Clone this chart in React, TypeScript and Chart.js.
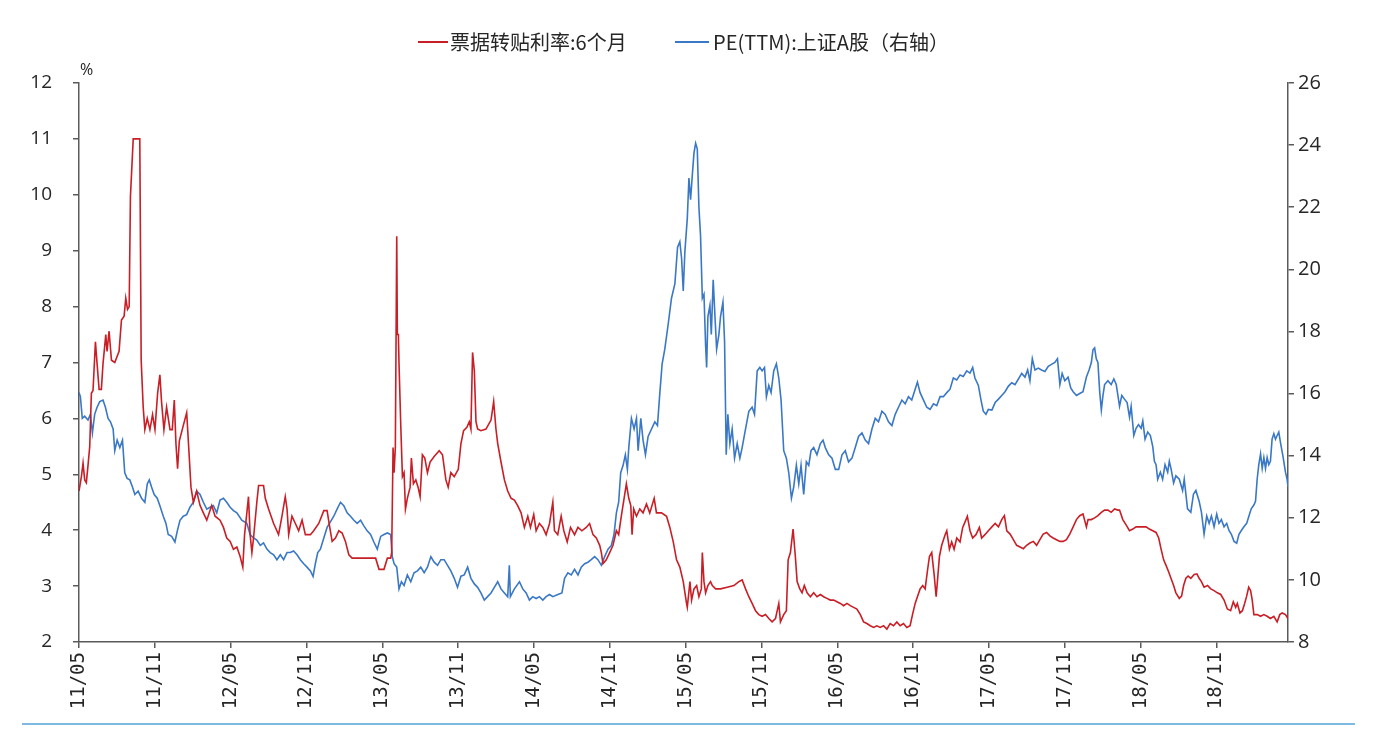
import React, { useEffect, useRef } from 'react';
import { Chart, registerables } from 'chart.js';

Chart.register(...registerables);

// x positions are months counted from 2011-05
const xTickLabels = ['11/05', '11/11', '12/05', '12/11', '13/05', '13/11', '14/05', '14/11', '15/05', '15/11', '16/05', '16/11', '17/05', '17/11', '18/05', '18/11'];

const rateMonths = [
  0, 0.19, 0.32, 0.45, 0.58, 0.71, 0.85, 0.98, 1.11, 1.3, 1.43, 1.59, 1.77, 1.9, 2.12, 2.22, 2.38, 2.57, 2.83, 3.17,
  3.36, 3.57, 3.7, 3.84, 3.97, 4.07, 4.29, 4.81, 4.92, 5.08, 5.21, 5.4, 5.61, 5.82, 6.01, 6.22, 6.4, 6.53, 6.72, 6.93,
  7.2, 7.38, 7.54, 7.67, 7.8, 7.94, 8.25, 8.52, 8.65, 8.86, 9.05, 9.31, 9.58, 9.84, 10.11, 10.5, 10.77, 11.16, 11.43, 11.69,
  11.96, 12.22, 12.49, 12.75, 12.96, 13.1, 13.28, 13.41, 13.54, 13.68, 13.81, 14.07, 14.21, 14.34, 14.6, 14.74, 15.0, 15.4, 15.79, 16.06,
  16.32, 16.46, 16.59, 16.85, 17.12, 17.38, 17.65, 17.91, 18.31, 18.57, 18.97, 19.37, 19.63, 19.84, 20.03, 20.29, 20.56, 20.82, 21.08, 21.35,
  21.61, 22.28, 23.47, 23.74, 24.13, 24.4, 24.66, 24.74, 24.85, 24.93, 25.03, 25.14, 25.19, 25.27, 25.32, 25.46, 25.59, 25.72, 25.83, 25.98,
  26.2, 26.3, 26.46, 26.65, 26.83, 26.99, 27.17, 27.36, 27.57, 27.78, 28.1, 28.5, 28.76, 29.03, 29.21, 29.42, 29.69, 30.01, 30.22, 30.43,
  30.69, 30.88, 31.01, 31.14, 31.28, 31.41, 31.54, 31.8, 32.2, 32.6, 32.81, 32.99, 33.13, 33.39, 33.66, 33.92, 34.19, 34.45, 34.71, 34.98,
  35.24, 35.51, 35.72, 35.98, 36.17, 36.43, 36.7, 36.96, 37.23, 37.49, 37.62, 37.88, 38.15, 38.36, 38.63, 38.89, 39.21, 39.48, 39.79, 40.13,
  40.4, 40.67, 40.93, 41.2, 41.33, 41.46, 41.72, 41.99, 42.25, 42.52, 42.7, 42.91, 43.13, 43.31, 43.5, 43.66, 43.76, 43.89, 44.11, 44.37,
  44.63, 44.9, 45.16, 45.51, 45.69, 46.09, 46.49, 46.75, 47.02, 47.28, 47.54, 47.81, 48.07, 48.13, 48.34, 48.47, 48.66, 48.87, 49.05, 49.24,
  49.32, 49.45, 49.58, 49.76, 49.97, 50.11, 50.37, 50.76, 51.29, 51.82, 52.21, 52.47, 52.74, 53.0, 53.26, 53.53, 53.79, 54.05, 54.32, 54.58,
  54.84, 55.11, 55.37, 55.5, 55.76, 55.97, 56.11, 56.29, 56.5, 56.68, 56.82, 57.03, 57.21, 57.39, 57.61, 57.87, 58.13, 58.39, 58.66, 58.92,
  59.18, 59.45, 59.71, 59.97, 60.24, 60.5, 60.76, 61.03, 61.29, 61.55, 61.82, 62.08, 62.34, 62.61, 62.87, 63.13, 63.39, 63.66, 63.92, 64.18,
  64.45, 64.71, 64.97, 65.24, 65.5, 65.76, 65.95, 66.16, 66.34, 66.55, 66.76, 66.95, 67.13, 67.29, 67.47, 67.66, 67.82, 67.92, 68.08, 68.26,
  68.53, 68.66, 68.87, 69.05, 69.24, 69.45, 69.71, 69.92, 70.11, 70.29, 70.5, 70.71, 70.97, 71.24, 71.42, 71.68, 71.95, 72.23, 72.49, 72.75,
  73.01, 73.22, 73.41, 73.67, 73.93, 74.19, 74.46, 74.72, 74.98, 75.24, 75.51, 75.77, 76.03, 76.29, 76.56, 76.82, 77.08, 77.34, 77.61, 77.87,
  78.13, 78.39, 78.66, 78.92, 79.18, 79.44, 79.71, 79.84, 80.1, 80.36, 80.62, 80.89, 81.15, 81.41, 81.67, 81.94, 82.2, 82.33, 82.59, 82.86,
  83.12, 83.38, 83.64, 83.91, 84.17, 84.43, 84.69, 84.96, 85.22, 85.43, 85.61, 85.82, 86.01, 86.19, 86.4, 86.61, 86.79, 87.06, 87.24, 87.4,
  87.58, 87.76, 87.97, 88.24, 88.45, 88.63, 88.81, 89.02, 89.29, 89.55, 89.81, 90.07, 90.34, 90.6, 90.86, 91.12, 91.33, 91.52, 91.65, 91.86,
  92.05, 92.23, 92.39, 92.55, 92.7, 92.83, 92.96, 93.23, 93.49, 93.75, 94.01, 94.27, 94.54, 94.8, 95.01, 95.2, 95.46, 95.66,
];

const rateValues = [
  4.7, 4.96, 5.2, 4.9, 4.85, 5.15, 5.5, 6.45, 6.5, 7.37, 6.98, 6.52, 6.52, 6.98, 7.5, 7.2, 7.56, 7.04, 7.0, 7.2,
  7.76, 7.83, 8.15, 7.95, 8.0, 9.97, 11, 11, 7.04, 6.2, 5.8, 6.0, 5.8, 6.07, 5.8, 6.45, 6.78, 6.3, 5.8, 6.2,
  5.8, 5.8, 6.33, 5.55, 5.1, 5.6, 5.87, 6.1, 5.6, 4.77, 4.5, 4.7, 4.44, 4.31, 4.18, 4.44, 4.25, 4.18, 4.05, 3.86,
  3.8, 3.66, 3.7, 3.53, 3.34, 3.92, 4.31, 4.6, 3.92, 3.6, 3.86, 4.5, 4.8, 4.8, 4.8, 4.57, 4.38, 4.12, 3.92, 4.25,
  4.6, 4.38, 3.92, 4.25, 4.12, 3.99, 4.18, 3.92, 3.92, 3.99, 4.12, 4.35, 4.35, 4.05, 3.8, 3.86, 3.99, 3.95, 3.8, 3.56,
  3.5, 3.5, 3.5, 3.3, 3.3, 3.5, 3.5, 3.6, 5.48, 5.03, 5.48, 9.26, 7.5, 7.5, 6.98, 5.87, 4.96, 5.03, 4.38, 4.57,
  4.77, 5.29, 4.83, 4.9, 4.77, 4.6, 5.35, 5.29, 5.03, 5.22, 5.32, 5.42, 5.35, 4.9, 4.77, 5.03, 4.96, 5.09, 5.55, 5.78,
  5.84, 5.94, 5.81, 7.18, 6.85, 5.94, 5.81, 5.78, 5.81, 5.97, 6.3, 5.81, 5.55, 5.22, 4.9, 4.7, 4.57, 4.54, 4.44, 4.31,
  4.05, 4.25, 4.05, 4.28, 3.99, 4.12, 4.05, 3.92, 4.12, 4.5, 3.99, 3.92, 4.25, 3.99, 3.79, 4.05, 3.92, 4.05, 3.99, 4.05,
  4.12, 3.92, 3.86, 3.73, 3.6, 3.4, 3.47, 3.6, 3.73, 3.99, 3.92, 4.25, 4.57, 4.83, 4.57, 4.44, 3.92, 4.38, 4.25, 4.38,
  4.31, 4.47, 4.31, 4.57, 4.31, 4.31, 4.25, 4.05, 3.79, 3.47, 3.34, 3.08, 2.69, 2.62, 3.08, 2.75, 2.95, 3.01, 2.81, 2.95,
  3.6, 3.08, 2.88, 3.01, 3.08, 3.01, 2.95, 2.95, 2.98, 3.01, 3.08, 3.11, 2.95, 2.81, 2.69, 2.56, 2.49, 2.46, 2.49, 2.42,
  2.36, 2.42, 2.69, 2.36, 2.49, 2.56, 3.47, 3.6, 4.02, 3.53, 3.08, 2.95, 2.88, 3.01, 2.88, 2.81, 2.88, 2.81, 2.85, 2.81,
  2.78, 2.75, 2.75, 2.72, 2.69, 2.65, 2.69, 2.65, 2.62, 2.59, 2.49, 2.36, 2.33, 2.29, 2.26, 2.29, 2.26, 2.29, 2.23, 2.33,
  2.29, 2.36, 2.29, 2.33, 2.26, 2.29, 2.49, 2.69, 2.81, 2.95, 3.01, 2.95, 3.27, 3.53, 3.6, 3.21, 2.81, 3.08, 3.53, 3.73,
  3.92, 3.99, 3.66, 3.79, 3.66, 3.86, 3.79, 4.05, 4.15, 4.25, 3.99, 3.86, 3.92, 4.05, 3.86, 3.92, 3.99, 4.06, 4.12, 4.06,
  4.19, 4.26, 3.99, 3.93, 3.83, 3.73, 3.7, 3.67, 3.73, 3.77, 3.8, 3.73, 3.83, 3.93, 3.96, 3.9, 3.86, 3.83, 3.8, 3.8,
  3.83, 3.93, 4.06, 4.19, 4.26, 4.29, 4.06, 4.19, 4.19, 4.22, 4.26, 4.32, 4.36, 4.36, 4.32, 4.38, 4.36, 4.36, 4.19, 4.09,
  3.99, 4.02, 4.06, 4.06, 4.06, 4.06, 4.02, 3.99, 3.96, 3.86, 3.67, 3.47, 3.37, 3.27, 3.14, 3.01, 2.88, 2.78, 2.82, 3.01,
  3.14, 3.18, 3.14, 3.21, 3.22, 3.14, 3.08, 2.98, 3.01, 2.95, 2.92, 2.88, 2.85, 2.75, 2.59, 2.56, 2.72, 2.62, 2.69, 2.52,
  2.56, 2.69, 2.82, 2.98, 2.92, 2.75, 2.49, 2.49, 2.46, 2.49, 2.46, 2.42, 2.46, 2.36, 2.49, 2.52, 2.49, 2.42,
];

const peMonths = [
  0, 0.11, 0.26, 0.45, 0.71, 0.9, 1.06, 1.24, 1.43, 1.64, 1.9, 2.09, 2.3, 2.49, 2.7, 2.83, 3.02, 3.23, 3.44, 3.62,
  3.81, 4.02, 4.23, 4.42, 4.68, 4.95, 5.21, 5.4, 5.56, 5.74, 5.95, 6.19, 6.4, 6.67, 6.88, 7.06, 7.33, 7.59, 7.78, 7.99,
  8.25, 8.52, 8.78, 9.05, 9.31, 9.58, 9.84, 10.11, 10.37, 10.63, 10.9, 11.16, 11.43, 11.69, 11.96, 12.22, 12.49, 12.88, 13.28, 13.54,
  13.81, 14.07, 14.34, 14.6, 14.87, 15.13, 15.4, 15.66, 15.93, 16.19, 16.46, 16.72, 16.98, 17.25, 17.51, 17.78, 18.04, 18.31, 18.52, 18.7,
  18.89, 19.1, 19.37, 19.63, 19.89, 20.16, 20.42, 20.69, 20.95, 21.22, 21.48, 21.75, 22.01, 22.28, 22.54, 22.8, 23.07, 23.33, 23.6, 23.87,
  24.13, 24.4, 24.66, 24.79, 24.93, 25.14, 25.32, 25.51, 25.72, 25.98, 26.25, 26.51, 26.78, 27.04, 27.31, 27.57, 27.84, 28.1, 28.37, 28.63,
  28.89, 29.16, 29.42, 29.69, 29.95, 30.22, 30.48, 30.75, 31.01, 31.28, 31.54, 31.8, 32.07, 32.33, 32.6, 32.86, 33.13, 33.39, 33.66, 33.92,
  34.05, 34.13, 34.45, 34.85, 35.11, 35.38, 35.64, 35.9, 36.17, 36.43, 36.7, 36.96, 37.23, 37.49, 37.89, 38.21, 38.42, 38.68, 38.95, 39.21,
  39.48, 39.74, 40.01, 40.27, 40.53, 40.8, 41.06, 41.33, 41.59, 41.86, 42.12, 42.33, 42.52, 42.7, 42.86, 43.05, 43.23, 43.39, 43.5, 43.71,
  43.92, 44.11, 44.24, 44.45, 44.63, 44.82, 45.03, 45.3, 45.56, 45.77, 45.96, 46.14, 46.35, 46.62, 46.88, 47.15, 47.36, 47.54, 47.68, 47.81,
  47.94, 48.13, 48.26, 48.39, 48.53, 48.66, 48.79, 48.92, 49.05, 49.18, 49.32, 49.45, 49.58, 49.66, 49.76, 49.92, 50.03, 50.18, 50.32, 50.45,
  50.63, 50.76, 50.95, 51.08, 51.21, 51.34, 51.5, 51.68, 51.87, 52.08, 52.29, 52.47, 52.74, 53.0, 53.26, 53.45, 53.66, 53.87, 54.05, 54.24,
  54.39, 54.58, 54.76, 54.97, 55.18, 55.37, 55.55, 55.76, 55.97, 56.16, 56.37, 56.55, 56.76, 56.95, 57.13, 57.34, 57.55, 57.74, 57.92, 58.13,
  58.39, 58.66, 58.87, 59.05, 59.32, 59.58, 59.84, 60.11, 60.37, 60.63, 60.89, 61.16, 61.42, 61.68, 61.95, 62.21, 62.47, 62.74, 63.0, 63.26,
  63.53, 63.79, 64.05, 64.32, 64.58, 64.84, 65.11, 65.37, 65.63, 65.89, 66.16, 66.34, 66.55, 66.82, 67.08, 67.34, 67.61, 67.87, 68.13, 68.39,
  68.66, 68.92, 69.18, 69.45, 69.71, 69.97, 70.24, 70.5, 70.71, 70.89, 71.16, 71.37, 71.55, 71.76, 71.95, 72.23, 72.49, 72.75, 73.01, 73.27,
  73.54, 73.8, 74.06, 74.33, 74.59, 74.85, 75.06, 75.24, 75.43, 75.64, 75.9, 76.16, 76.43, 76.69, 76.95, 77.21, 77.42, 77.61, 77.79, 78.0,
  78.26, 78.47, 78.66, 78.92, 79.18, 79.44, 79.71, 79.92, 80.1, 80.23, 80.36, 80.49, 80.62, 80.76, 80.89, 81.02, 81.15, 81.41, 81.67, 81.88,
  82.07, 82.2, 82.33, 82.51, 82.72, 82.93, 83.12, 83.25, 83.46, 83.64, 83.83, 84.04, 84.17, 84.35, 84.56, 84.77, 84.96, 85.09, 85.22, 85.35,
  85.56, 85.74, 85.93, 86.14, 86.27, 86.4, 86.61, 86.79, 87.06, 87.32, 87.45, 87.71, 87.97, 88.18, 88.37, 88.63, 88.81, 89.02, 89.23, 89.42,
  89.6, 89.81, 90.02, 90.2, 90.39, 90.6, 90.81, 90.99, 91.18, 91.39, 91.6, 91.78, 91.97, 92.17, 92.39, 92.57, 92.75, 92.96, 93.09, 93.22,
  93.35, 93.49, 93.62, 93.75, 93.88, 94.01, 94.14, 94.27, 94.4, 94.54, 94.67, 94.8, 94.93, 95.07, 95.28, 95.46, 95.59, 95.66,
];

const peValues = [
  16.03, 15.9, 15.2, 15.27, 15.15, 15.33, 14.73, 15.33, 15.56, 15.74, 15.79, 15.56, 15.2, 15.09, 14.86, 14.16, 14.5, 14.26, 14.5, 13.45,
  13.27, 13.22, 12.99, 12.75, 12.86, 12.63, 12.5, 13.09, 13.22, 12.99, 12.75, 12.63, 12.39, 12.05, 11.82, 11.46, 11.4, 11.22, 11.58, 11.92,
  12.05, 12.1, 12.34, 12.5, 12.86, 12.75, 12.5, 12.28, 12.34, 12.39, 12.16, 12.57, 12.63, 12.5, 12.34, 12.23, 12.16, 11.92, 11.82, 11.46,
  11.35, 11.28, 11.11, 11.19, 10.99, 10.88, 10.81, 10.65, 10.81, 10.65, 10.88, 10.88, 10.93, 10.81, 10.65, 10.52, 10.41, 10.29, 10.11, 10.52,
  10.88, 10.99, 11.35, 11.69, 11.87, 12.05, 12.28, 12.5, 12.39, 12.16, 12.05, 11.92, 11.82, 11.92, 11.74, 11.58, 11.46, 11.22, 10.99, 11.4,
  11.46, 11.51, 11.46, 10.75, 10.52, 10.41, 9.71, 9.94, 9.82, 10.16, 9.94, 10.23, 10.29, 10.41, 10.23, 10.41, 10.75, 10.57, 10.47, 10.65,
  10.65, 10.47, 10.29, 10.05, 9.76, 10.12, 10.16, 10.41, 10.05, 9.87, 9.76, 9.58, 9.35, 9.46, 9.58, 9.76, 9.94, 9.71, 9.58, 9.46,
  10.47, 9.46, 9.71, 9.94, 9.71, 9.58, 9.35, 9.46, 9.4, 9.46, 9.35, 9.46, 9.53, 9.46, 9.53, 9.58, 10.05, 10.23, 10.16, 10.34,
  10.16, 10.41, 10.52, 10.57, 10.65, 10.75, 10.65, 10.47, 10.75, 10.99, 11.11, 11.46, 12.16, 12.5, 13.45, 13.69, 14.03, 13.56, 14.26, 15.2,
  14.86, 15.2, 14.16, 15.2, 14.5, 14.03, 14.62, 14.86, 15.09, 14.97, 16.03, 16.96, 17.43, 18.24, 19.07, 19.54, 20.71, 20.89, 20.35, 19.3,
  20.58, 21.64, 22.94, 22.24, 23.05, 23.75, 24.06, 23.88, 22.0, 21.07, 19.07, 19.2, 17.54, 16.84, 18.48, 18.84, 17.9, 19.66, 18.48, 17.43,
  17.9, 18.48, 18.94, 17.67, 14.03, 15.33, 14.39, 14.86, 13.92, 14.39, 13.92, 14.26, 14.86, 15.43, 15.56, 15.33, 16.73, 16.84, 16.73, 16.84,
  15.9, 16.26, 16.03, 16.73, 16.96, 16.5, 15.79, 14.16, 13.92, 13.45, 12.63, 12.99, 13.69, 13.09, 13.69, 12.75, 13.8, 13.69, 14.16, 14.26,
  14.03, 14.39, 14.5, 14.26, 14.03, 13.92, 13.56, 13.56, 14.03, 14.16, 13.8, 13.92, 14.26, 14.62, 14.73, 14.5, 14.39, 14.86, 15.2, 15.09,
  15.43, 15.33, 15.09, 14.97, 15.33, 15.56, 15.79, 15.67, 15.9, 15.79, 16.14, 16.37, 16.03, 15.79, 15.56, 15.49, 15.67, 15.61, 15.9, 15.9,
  16.03, 16.14, 16.5, 16.44, 16.6, 16.55, 16.73, 16.66, 16.84, 16.5, 16.26, 15.79, 15.43, 15.33, 15.49, 15.47, 15.71, 15.82, 15.94, 16.06,
  16.24, 16.35, 16.29, 16.47, 16.65, 16.53, 16.76, 16.41, 17.12, 16.76, 16.82, 16.76, 16.71, 16.88, 16.94, 17.0, 17.12, 16.29, 16.65, 16.41,
  16.53, 16.18, 16.06, 15.94, 16.0, 16.06, 16.53, 16.76, 17.0, 17.41, 17.47, 17.12, 17.0, 16.06, 15.47, 15.94, 16.29, 16.41, 16.29, 16.47,
  16.29, 15.94, 15.59, 15.94, 15.82, 15.71, 15.24, 15.59, 14.65, 14.88, 15.0, 14.88, 15.12, 14.53, 14.76, 14.65, 14.29, 13.82, 13.71, 13.24,
  13.47, 13.24, 13.71, 13.47, 13.82, 13.59, 13.12, 13.35, 13.24, 12.88, 13.24, 12.29, 12.18, 12.76, 12.88, 12.53, 12.18, 11.47, 12.06, 11.82,
  12.06, 11.71, 12.12, 11.82, 11.94, 11.71, 11.82, 11.59, 11.47, 11.24, 11.18, 11.47, 11.59, 11.71, 11.82, 12.06, 12.29, 12.41, 12.53, 13.24,
  13.71, 14.06, 13.59, 13.94, 13.59, 13.94, 13.71, 13.82, 14.53, 14.71, 14.53, 14.65, 14.76, 14.41, 13.94, 13.47, 13.24, 13.0,
];

const RED = '#C81E26';
const BLUE = '#3A78C6';
const AXIS = '#5A5A5A';
const TEXT = '#262626';

export default function App() {
  const ref = useRef<HTMLCanvasElement>(null);

  useEffect(() => {
    const canvas = ref.current;
    if (!canvas) return;
    const chart = new Chart(canvas, {
      type: 'line',
      data: {
        datasets: [
          {
            label: '票据转贴利率:6个月',
            data: rateMonths.map((m, i) => ({ x: m, y: rateValues[i] })),
            borderColor: RED,
            backgroundColor: RED,
            borderWidth: 1.6,
            pointRadius: 0,
            tension: 0,
            yAxisID: 'y',
          },
          {
            label: 'PE(TTM):上证A股（右轴）',
            data: peMonths.map((m, i) => ({ x: m, y: peValues[i] })),
            borderColor: BLUE,
            backgroundColor: BLUE,
            borderWidth: 1.6,
            pointRadius: 0,
            tension: 0,
            yAxisID: 'y1',
          },
        ],
      },
      options: {
        responsive: false,
        animation: false,
        devicePixelRatio: 1,
        layout: { padding: { top: 83, left: 0, right: 0, bottom: 0 } },
        plugins: { legend: { display: false }, tooltip: { enabled: false } },
        scales: {
          x: {
            type: 'linear',
            min: 0,
            max: 95.66,
            afterBuildTicks: (s: any) => {
              s.ticks = xTickLabels.map((_, i) => ({ value: i * 6 }));
            },
            afterFit: (s: any) => {
              s.height = 113;
            },
            ticks: {
              autoSkip: false,
              maxRotation: 90,
              minRotation: 90,
              padding: 4,
              color: TEXT,
              font: { family: 'DejaVu Sans Mono', size: 19 },
              callback: (v: any) => xTickLabels[Math.round(Number(v) / 6)] ?? '',
            },
            grid: { display: true, drawOnChartArea: false, drawTicks: true, tickLength: 6, color: AXIS, lineWidth: 1.5 },
            border: { display: true, color: AXIS, width: 1.5 },
          },
          y: {
            position: 'left',
            min: 2,
            max: 12,
            afterFit: (s: any) => {
              s.width = 79;
            },
            ticks: {
              stepSize: 1,
              padding: 21,
              color: TEXT,
              font: { family: 'Open Sans', size: 19 },
            },
            grid: { display: true, drawOnChartArea: false, drawTicks: true, tickLength: 6, color: AXIS, lineWidth: 1.5 },
            border: { display: true, color: AXIS, width: 1.5 },
          },
          y1: {
            position: 'right',
            min: 8,
            max: 26,
            afterFit: (s: any) => {
              s.width = 99;
            },
            ticks: {
              stepSize: 2,
              padding: 4,
              color: TEXT,
              font: { family: 'Open Sans', size: 20 },
            },
            grid: { display: true, drawOnChartArea: false, drawTicks: true, tickLength: 6, color: AXIS, lineWidth: 1.5 },
            border: { display: true, color: AXIS, width: 1.5 },
          },
        },
      },
    });
    return () => chart.destroy();
  }, []);

  const legendText: React.CSSProperties = {
    position: 'absolute',
    top: 29,
    fontFamily: '"Noto Sans CJK SC", "Noto Sans", sans-serif',
    fontSize: 20,
    lineHeight: '26px',
    color: TEXT,
    whiteSpace: 'nowrap',
  };

  return (
    <div style={{ position: 'absolute', left: 0, top: 0, width: 1387, height: 755, background: '#fff', overflow: 'hidden' }}>
      <canvas ref={ref} width={1387} height={755} style={{ position: 'absolute', left: 0, top: 0, width: 1387, height: 755 }} />
      <div style={{ position: 'absolute', left: 418, top: 41, width: 30, height: 2, background: RED }} />
      <div style={{ ...legendText, left: 450 }}>票据转贴利率:6个月</div>
      <div style={{ position: 'absolute', left: 675, top: 41, width: 34, height: 2, background: BLUE }} />
      <div style={{ ...legendText, left: 713 }}>PE(TTM):上证A股（右轴）</div>
      <div style={{ position: 'absolute', left: 80, top: 58, fontFamily: '"Open Sans", sans-serif', fontSize: 16, color: TEXT }}>%</div>
      <div style={{ position: 'absolute', left: 22, top: 723, width: 1333, height: 2, background: '#7DB9E3' }} />
    </div>
  );
}
